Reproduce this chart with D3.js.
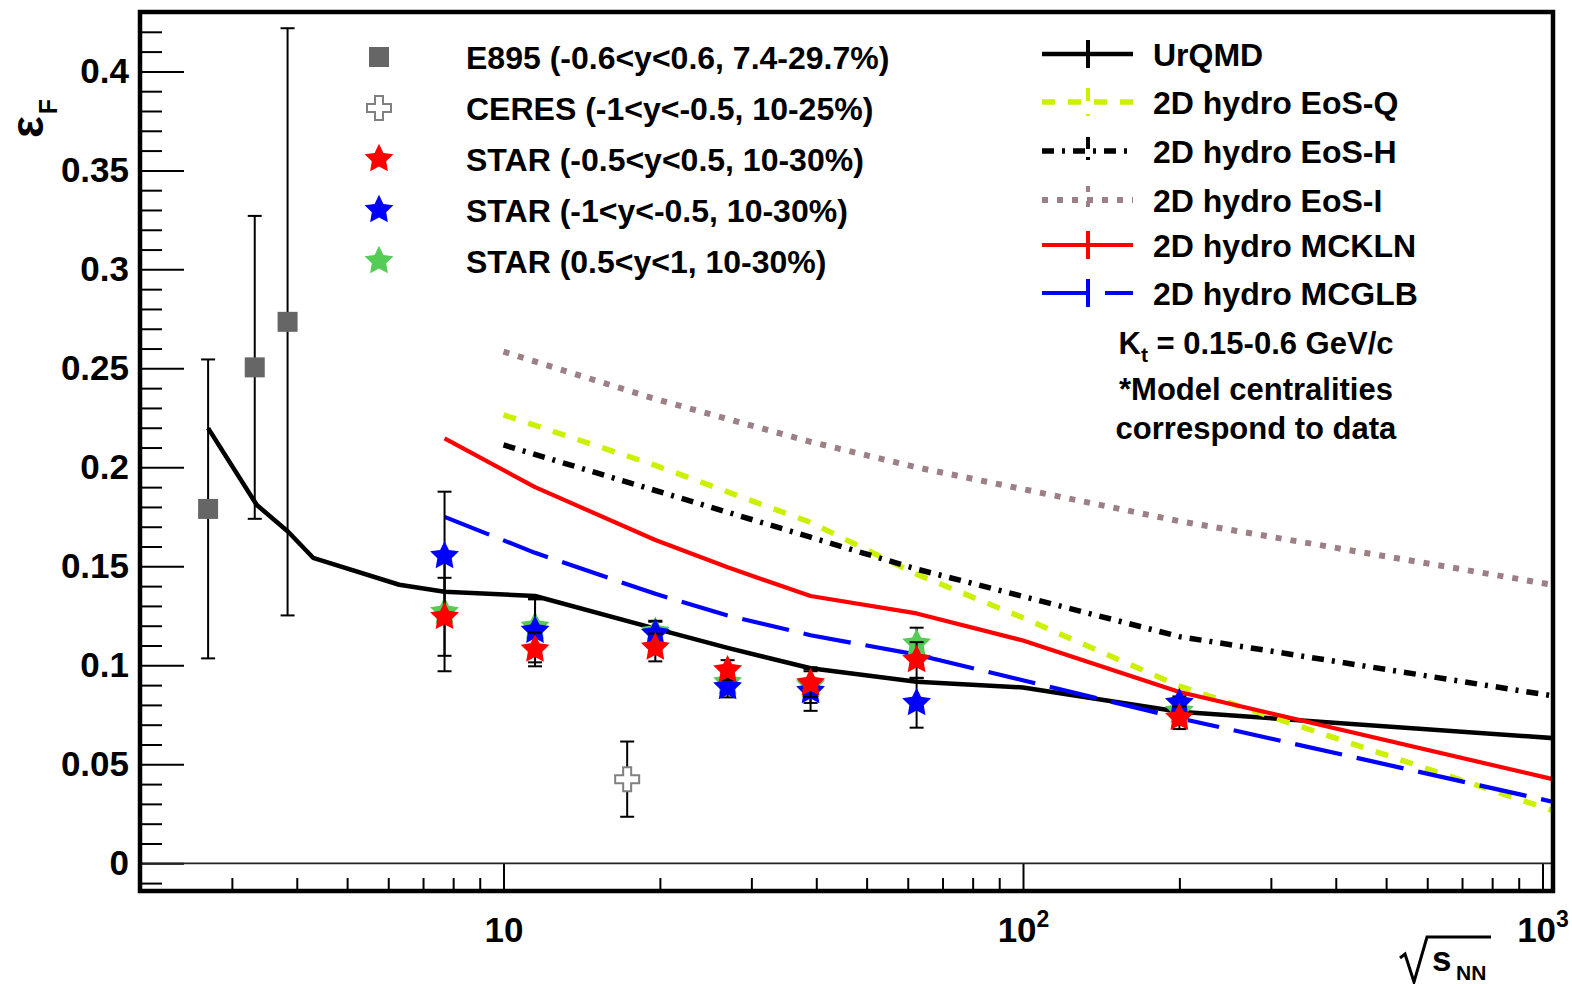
<!DOCTYPE html>
<html>
<head>
<meta charset="utf-8">
<script src="https://cdn.jsdelivr.net/npm/d3@7"></script>
<style>
  html, body { margin: 0; padding: 0; background: #fff; }
  svg text { font-family: "Liberation Sans", Arial, Helvetica, sans-serif; font-weight: bold; fill: #000; }
</style>
</head>
<body>
<svg id="chart" width="1572" height="984"></svg>
<script>
// ---- measured freeze-out eccentricity ----
const e895Energy = [2.70, 3.32, 3.84];
const e895Value  = [0.179, 0.2505, 0.2735];
const e895Error  = [0.0755, 0.0765, 0.1483];

const ceresEnergy = [17.3];
const ceresValue  = [0.0425];
const ceresError  = [0.019];

const starEnergy = [7.7, 11.5, 19.6, 27, 39, 62.4, 200];
const starMidValue  = [0.1245, 0.108, 0.109, 0.0976, 0.091, 0.1027, 0.0735];   // -0.5<y<0.5
const starMidError  = [0.0197, 0.0085, 0.007, 0.005, 0.007, 0.009, 0.0057];
const starBackValue = [0.1552, 0.1175, 0.116, 0.089, 0.087, 0.081, 0.081];     // -1<y<-0.5
const starBackError = [0.0325, 0.016, 0.0065, 0.0052, 0.010, 0.0125, 0.0033];
const starFwdValue  = [0.127, 0.1195, 0.117, 0.0915, 0.090, 0.111, 0.077];     // 0.5<y<1
const starFwdError  = [0.030, 0.0138, 0.005, 0.005, 0.009, 0.008, 0.005];

// ---- model curves ----
const urqmdEnergy = [2.70, 3.35, 3.85, 4.3, 6.3, 7.7, 11.5, 19.6, 27, 39, 62.4, 100, 200, 1050];
const urqmdValue  = [0.2198, 0.181, 0.1675, 0.1543, 0.1407, 0.1372, 0.1350, 0.1185, 0.1088, 0.0985, 0.0917, 0.0888, 0.0765, 0.0632];

const eosQEnergy = [10, 19.6, 39, 62.4, 100, 200, 1050];
const eosQValue  = [0.2265, 0.201, 0.1722, 0.146, 0.124, 0.0895, 0.0265];

const eosHEnergy = [10, 19.6, 39, 62.4, 200, 1050];
const eosHValue  = [0.2113, 0.1883, 0.1647, 0.1486, 0.1145, 0.0845];

const eosIEnergy = [10, 19.6, 39, 62.4, 200, 1050];
const eosIValue  = [0.2584, 0.2345, 0.2129, 0.200, 0.1728, 0.1406];

const mcklnEnergy = [7.7, 11.5, 19.6, 27, 39, 62.4, 100, 200, 1050];
const mcklnValue  = [0.2146, 0.190, 0.1633, 0.1495, 0.135, 0.1262, 0.1125, 0.0865, 0.0424];

const mcglbEnergy = [7.7, 11.5, 19.6, 27, 39, 62.4, 200, 1050];
const mcglbValue  = [0.175, 0.1568, 0.1361, 0.1252, 0.1152, 0.1054, 0.0733, 0.031];

// ---- axis ticks ----
const yTickValues = [0, 0.05, 0.1, 0.15, 0.2, 0.25, 0.3, 0.35, 0.4];
const yTickLabels = ["0", "0.05", "0.1", "0.15", "0.2", "0.25", "0.3", "0.35", "0.4"];
const xTickValues = [10, 100, 1000];
const xTickBase   = ["10", "10", "10"];
const xTickPower  = ["", "2", "3"];

// ---- legend text ----
const dataLegendLabels = [
  "E895 (-0.6<y<0.6, 7.4-29.7%)",
  "CERES (-1<y<-0.5, 10-25%)",
  "STAR (-0.5<y<0.5, 10-30%)",
  "STAR (-1<y<-0.5, 10-30%)",
  "STAR (0.5<y<1, 10-30%)"
];
const modelLegendLabels = [
  "UrQMD", "2D hydro EoS-Q", "2D hydro EoS-H", "2D hydro EoS-I", "2D hydro MCKLN", "2D hydro MCGLB"
];

// ---- layout ----
const frame = { left: 140, right: 1553, top: 12, bottom: 891 };
const svg = d3.select("#chart");

const x = d3.scaleLog().domain([2, 1050]).range([140.4, 1553.5]);
const y = d3.scaleLinear().domain([-0.014, 0.43]).range([frame.bottom, frame.top]);

svg.append("rect").attr("width", 1572).attr("height", 984).attr("fill", "#fff");

svg.append("defs").append("clipPath").attr("id", "plotClip")
  .append("rect")
  .attr("x", frame.left).attr("y", frame.top)
  .attr("width", frame.right - frame.left).attr("height", frame.bottom - frame.top);

// ---- axes ----
const yMinor = d3.range(-1, 43).map(i => i / 100).filter(v => Math.abs(v * 20 - Math.round(v * 20)) > 1e-6);
const yAxisMinor = svg.append("g").attr("transform", `translate(${frame.left},0)`)
  .call(d3.axisLeft(y).tickValues(yMinor).tickSize(-22).tickFormat(""));
const yAxis = svg.append("g").attr("transform", `translate(${frame.left},0)`)
  .call(d3.axisLeft(y).tickValues(yTickValues).tickSize(-44).tickPadding(11)
    .tickFormat((d, i) => yTickLabels[i]));

const xMinor = [];
[1, 10, 100].forEach(dec => { for (let k = 2; k <= 9; k++) { const v = k * dec; if (v > 2 && v < 1050 && v !== 10 && v !== 100) xMinor.push(v); } });
const xAxisMinor = svg.append("g").attr("transform", `translate(0,${frame.bottom})`)
  .call(d3.axisBottom(x).tickValues(xMinor).tickSize(-13).tickFormat(""));
const xAxis = svg.append("g").attr("transform", `translate(0,${frame.bottom})`)
  .call(d3.axisBottom(x).tickValues(xTickValues).tickSize(-28).tickPadding(26).tickFormat(""));

[yAxisMinor, yAxis, xAxisMinor, xAxis].forEach(g => {
  g.select(".domain").remove();
  g.selectAll(".tick line").attr("stroke", "#000").attr("stroke-width", 2);
});
yAxis.selectAll(".tick text").style("font-size", "35px").attr("fill", "#000");

xAxis.selectAll(".tick text").each(function (d, i) {
  const t = d3.select(this).style("font-size", "35px").attr("fill", "#000");
  t.text(null);
  t.append("tspan").text(xTickBase[i]);
  if (xTickPower[i]) {
    t.append("tspan").attr("dy", "-15").style("font-size", "23px").text(xTickPower[i]);
  }
});

// zero line
svg.append("line")
  .attr("x1", frame.left).attr("x2", frame.right)
  .attr("y1", y(0)).attr("y2", y(0))
  .attr("stroke", "#222").attr("stroke-width", 1.8);

// ---- model curves ----
const zip = (a, b) => a.map((v, i) => [v, b[i]]);
const line = d3.line().x(d => x(d[0])).y(d => y(d[1]));

const models = [
  { e: urqmdEnergy, v: urqmdValue, color: "#000000", width: 4.5, dash: null },
  { e: eosQEnergy,  v: eosQValue,  color: "#ccf000", width: 5.5, dash: "13,13" },
  { e: eosHEnergy,  v: eosHValue,  color: "#000000", width: 5.5, dash: "12,8,3,8" },
  { e: eosIEnergy,  v: eosIValue,  color: "#9d7f86", width: 6,   dash: "6,9" },
  { e: mcklnEnergy, v: mcklnValue, color: "#ff0000", width: 4.2, dash: null },
  { e: mcglbEnergy, v: mcglbValue, color: "#0000ff", width: 4.2, dash: "48,15" }
];

const curveLayer = svg.append("g").attr("clip-path", "url(#plotClip)");
models.forEach(m => {
  curveLayer.append("path")
    .datum(zip(m.e, m.v))
    .attr("d", line)
    .attr("fill", "none")
    .attr("stroke", m.color)
    .attr("stroke-width", m.width)
    .attr("stroke-dasharray", m.dash)
    .attr("stroke-linejoin", "round");
});

// ---- data points ----
const capHalf = 7;
function errorBars(g, e, v, err) {
  const pts = e.map((s, i) => ({ s, v: v[i], err: err[i] }));
  const eb = g.append("g").attr("stroke", "#000").attr("stroke-width", 2);
  eb.selectAll(".bar").data(pts).join("line")
    .attr("x1", d => x(d.s)).attr("x2", d => x(d.s))
    .attr("y1", d => y(d.v + d.err)).attr("y2", d => y(d.v - d.err));
  eb.selectAll(".capTop").data(pts).join("line")
    .attr("x1", d => x(d.s) - capHalf).attr("x2", d => x(d.s) + capHalf)
    .attr("y1", d => y(d.v + d.err)).attr("y2", d => y(d.v + d.err));
  eb.selectAll(".capBot").data(pts).join("line")
    .attr("x1", d => x(d.s) - capHalf).attr("x2", d => x(d.s) + capHalf)
    .attr("y1", d => y(d.v - d.err)).attr("y2", d => y(d.v - d.err));
  return pts;
}

// filled five-point star, a little stouter than d3.symbolStar
const fatStar = {
  draw(ctx, size) {
    const R = Math.sqrt(size / 1.2), r = R * 0.5;
    for (let k = 0; k < 10; k++) {
      const a = -Math.PI / 2 + k * Math.PI / 5, rad = k % 2 ? r : R;
      const px = rad * Math.cos(a), py = rad * Math.sin(a);
      k ? ctx.lineTo(px, py) : ctx.moveTo(px, py);
    }
    ctx.closePath();
  }
};
const squareSym = d3.symbol().type(d3.symbolSquare).size(400);
const starSym = d3.symbol().type(fatStar).size(275);
const crossPath = "M-4,-12H4V-4H12V4H4V12H-4V4H-12V-4H-4Z";

const dataLayer = svg.append("g");

const e895Pts = errorBars(dataLayer, e895Energy, e895Value, e895Error);
dataLayer.selectAll(".e895").data(e895Pts).join("path")
  .attr("d", squareSym)
  .attr("transform", d => `translate(${x(d.s)},${y(d.v)})`)
  .attr("fill", "#666666");

const ceresPts = errorBars(dataLayer, ceresEnergy, ceresValue, ceresError);
dataLayer.selectAll(".ceres").data(ceresPts).join("path")
  .attr("d", crossPath)
  .attr("transform", d => `translate(${x(d.s)},${y(d.v)})`)
  .attr("fill", "#fff").attr("stroke", "#808080").attr("stroke-width", 2);

const starSeries = [
  { v: starFwdValue,  err: starFwdError,  color: "#55cc55" },
  { v: starBackValue, err: starBackError, color: "#0000ff" },
  { v: starMidValue,  err: starMidError,  color: "#ff0000" }
];
starSeries.forEach(sr => {
  const pts = errorBars(dataLayer, starEnergy, sr.v, sr.err);
  dataLayer.append("g").selectAll("path").data(pts).join("path")
    .attr("d", starSym)
    .attr("transform", d => `translate(${x(d.s)},${y(d.v)})`)
    .attr("fill", sr.color);
});

// ---- legend: data ----
const dataLegendY = [57, 108, 159, 210, 261];
const legL = svg.append("g");
legL.append("path").attr("d", squareSym).attr("transform", `translate(379,${dataLegendY[0]})`).attr("fill", "#666666");
legL.append("path").attr("d", crossPath).attr("transform", `translate(379,${dataLegendY[1]})`)
  .attr("fill", "#fff").attr("stroke", "#808080").attr("stroke-width", 2);
[["#ff0000", 2], ["#0000ff", 3], ["#55cc55", 4]].forEach(([c, i]) => {
  legL.append("path").attr("d", starSym).attr("transform", `translate(379,${dataLegendY[i]})`).attr("fill", c);
});
legL.selectAll("text").data(dataLegendLabels).join("text")
  .attr("x", 466).attr("y", (d, i) => dataLegendY[i]).attr("dy", "0.36em")
  .style("font-size", "32px").text(d => d);

// ---- legend: models ----
const modelLegendY = [54, 102, 151, 200, 245, 293];
const legR = svg.append("g");
models.forEach((m, i) => {
  const yy = modelLegendY[i];
  legR.append("line").attr("x1", 1042).attr("x2", 1133).attr("y1", yy).attr("y2", yy)
    .attr("stroke", m.color).attr("stroke-width", m.width).attr("stroke-dasharray", m.dash);
  legR.append("line").attr("x1", 1088).attr("x2", 1088).attr("y1", yy - 14).attr("y2", yy + 14)
    .attr("stroke", m.color).attr("stroke-width", 4).attr("stroke-dasharray", m.dash);
});
legR.selectAll("text").data(modelLegendLabels).join("text")
  .attr("x", 1153).attr("y", (d, i) => modelLegendY[i]).attr("dy", "0.36em")
  .style("font-size", "32px").text(d => d);

// notes
const note1 = svg.append("text").attr("x", 1256).attr("y", 354).attr("text-anchor", "middle").style("font-size", "31px");
note1.append("tspan").text("K");
note1.append("tspan").attr("dy", 8).style("font-size", "21px").text("t");
note1.append("tspan").attr("dy", -8).text(" = 0.15-0.6 GeV/c");
svg.append("text").attr("x", 1256).attr("y", 400).attr("text-anchor", "middle").style("font-size", "31px").text("*Model centralities");
svg.append("text").attr("x", 1256).attr("y", 439).attr("text-anchor", "middle").style("font-size", "31px").text("correspond to data");

// ---- axis titles ----
const yTitle = svg.append("text").attr("transform", "translate(43,138) rotate(-90)");
yTitle.append("tspan").style("font-size", "46px").text("ε");
yTitle.append("tspan").attr("dy", 14).attr("dx", 2).style("font-size", "25px").text("F");

svg.append("path")
  .attr("d", "M1400,958 L1405,954 L1414,982 L1427,937 L1491,937")
  .attr("fill", "none").attr("stroke", "#000").attr("stroke-width", 3).attr("stroke-linejoin", "miter");
svg.append("text").attr("x", 1432).attr("y", 971).style("font-size", "35px").text("s");
svg.append("text").attr("x", 1456).attr("y", 980).style("font-size", "21px").text("NN");

// ---- frame ----
svg.append("rect")
  .attr("x", frame.left).attr("y", frame.top)
  .attr("width", frame.right - frame.left).attr("height", frame.bottom - frame.top)
  .attr("fill", "none").attr("stroke", "#000").attr("stroke-width", 4.5);
</script>
</body>
</html>
